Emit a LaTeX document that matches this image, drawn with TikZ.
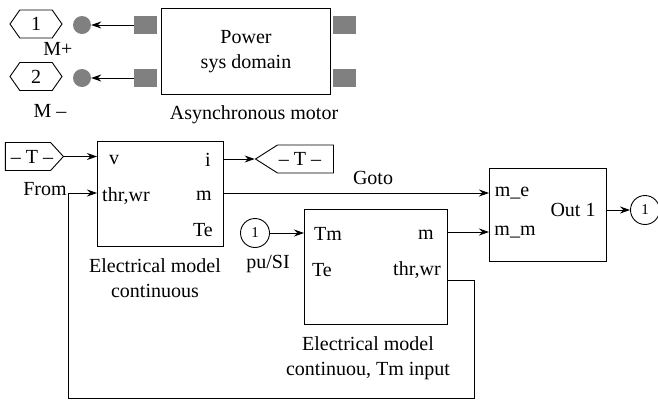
\documentclass[tikz,border=0pt]{standalone}
\usepackage{fontspec}
\setmainfont{Liberation Serif}
\usetikzlibrary{shapes.symbols, arrows.meta}
\definecolor{portgray}{RGB}{128,128,128}

\begin{document}
\begin{tikzpicture}[
    x=1pt, y=-1pt,
    every node/.style={font=\fontsize{20}{24.5}\selectfont, inner sep=0pt, align=center},
    box/.style={rectangle, draw, line width=0.9pt, anchor=north west},
    port/.style={rectangle, fill=portgray, minimum width=23pt, minimum height=18.5pt},
    dot/.style={circle, fill=portgray, minimum size=18pt},
    hextag/.style={signal, draw, line width=0.9pt, signal to=east and west, signal pointer angle=110, minimum width=52pt, minimum height=28pt},
    fromtag/.style={signal, draw, line width=0.9pt, signal to=east, signal pointer angle=95, minimum width=58pt, minimum height=28pt},
    gototag/.style={signal, draw, line width=0.9pt, signal to=west, signal pointer angle=65, minimum width=78pt, minimum height=28pt},
    ring/.style={circle, draw, line width=0.9pt, minimum size=29pt, font=\fontsize{15}{18}\selectfont},
    arrow/.style={-{Stealth[length=10pt, width=7pt]}, line width=0.9pt},
    wire/.style={line width=0.9pt}
]
    \useasboundingbox (0,0) rectangle (658,400);

    % Power block
    \node[box, minimum width=169pt, minimum height=86pt] (power) at (161,8) {};
    \node (powertext) at (246,51.5) {Power\\sys domain};
    \node (motorlabel) at (254,115) {Asynchronous motor};
    \node[port] (portlt) at (145.5,25) {};
    \node[port] (portlb) at (145.5,78) {};
    \node[port] (portrt) at (344.5,25) {};
    \node[port] (portrb) at (344.5,78) {};
    \node[dot] (dota) at (82,25) {};
    \node[dot] (dotb) at (82,78) {};
    \node[hextag] (hexa) at (36,24) {1};
    \node[hextag] (hexb) at (36,76.5) {2};
    \node (mplus) at (58,49) {M+};
    \node (mminus) at (50,111) {M --};

    % Electrical model
    \node[box, minimum width=126pt, minimum height=105pt] (elec) at (97,141) {};
    \node (elecv) at (114,160) {v};
    \node (eleci) at (208,160) {i};
    \node (electhr) at (126,196) {thr,wr};
    \node (elecm) at (204,196) {m};
    \node (elecTe) at (203,230) {Te};
    \node (eleclabel) at (155,278) {Electrical model\\continuous};
    \node[fromtag] (from) at (28,156.5) {};
    \node (fromtext) at (32,156.5) {-- T --};
    \node (fromlabel) at (45,189) {From};
    \node[gototag] (goto) at (305.5,159) {};
    \node (gototext) at (300,159) {-- T --};
    \node (gotolabel) at (373,178) {Goto};

    % Tm input model
    \node[box, minimum width=143pt, minimum height=115pt] (tmodel) at (304,209) {};
    \node (tmodelTm) at (328,234) {Tm};
    \node (tmodelm) at (426,235) {m};
    \node (tmodelTe) at (322,270) {Te};
    \node (tmodelthr) at (417,270) {thr,wr};
    \node (tmodellabel) at (368,358) {Electrical model\\continuou, Tm input};
    \node[ring] (puin) at (255,233) {1};
    \node (pulabel) at (268,264) {pu/SI};

    % Out block
    \node[box, minimum width=117pt, minimum height=93pt] (outbox) at (489,168) {};
    \node (oute) at (512,193) {m\_e};
    \node (outm) at (515,232) {m\_m};
    \node (outtext) at (573,210) {Out 1};
    \node[ring] (outring) at (645,210) {1};

    % Free ends of the wires
    \coordinate (thrin) at (97,193);
    \coordinate (thrstart) at (68,193);
    \coordinate (thrbottom) at (68,398);
    \coordinate (throut) at (447,280);

    % Arrows
    \draw[arrow] (portlt.west) -- (dota.east);
    \draw[arrow] (portlb.west) -- (dotb.east);
    \draw[arrow] (from.east) -- (elec.west |- from.east);
    \draw[arrow] (elec.east |- goto.west) -- (goto.west);
    \draw[arrow] (elec.east |- oute) -- (outbox.west |- oute);
    \draw[arrow] (puin.east) -- (tmodel.west |- puin.east);
    \draw[arrow] (tmodel.east |- outm) -- (outbox.west |- outm);
    \draw[arrow] (outbox.east |- outring.west) -- (outring.west);

    % Feedback loop
    \draw[arrow] (thrstart) -- (thrin);
    \draw[wire] (throut) -- ++(27,0) |- (thrbottom) -- (thrstart);
\end{tikzpicture}
\end{document}
